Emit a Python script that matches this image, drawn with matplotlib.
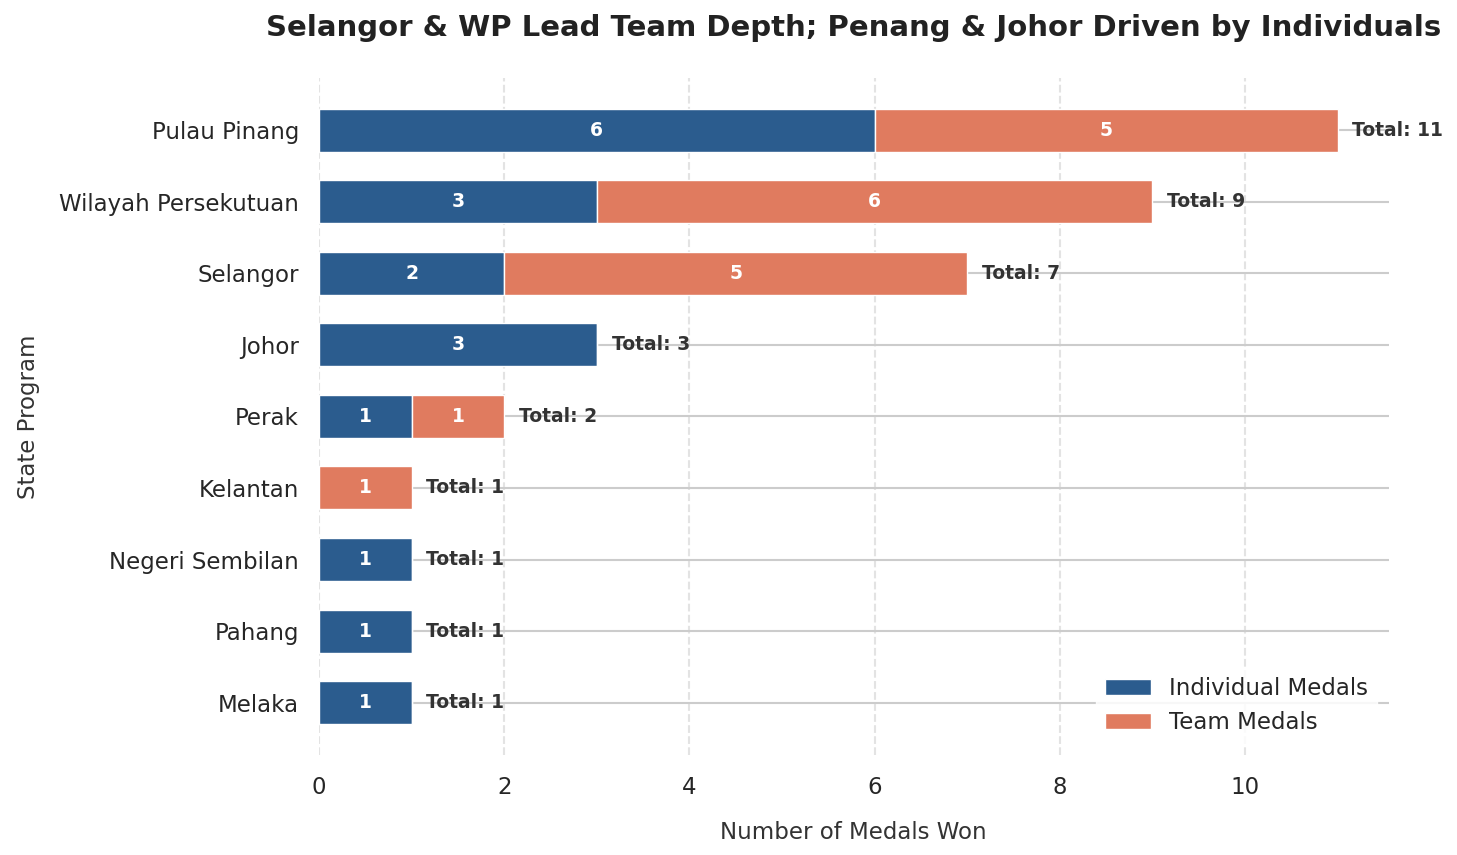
import numpy as np
import matplotlib.pyplot as plt
import seaborn as sns

states = ['Pulau Pinang', 'Wilayah Persekutuan', 'Selangor', 'Johor', 'Perak',
          'Kelantan', 'Negeri Sembilan', 'Pahang', 'Melaka']
individual = [6, 3, 2, 3, 1, 0, 1, 1, 1]
team = [5, 6, 5, 0, 1, 1, 0, 0, 0]

blue = '#2b5c8e'
orange = '#e07b5f'

sns.set_style('whitegrid')
plt.rcParams['font.family'] = ['DejaVu Sans']

ind = np.array(individual)
tm = np.array(team)
total = ind + tm
y = np.arange(len(states))

fig, ax = plt.subplots(figsize=(14.57, 8.55), dpi=100)
fig.subplots_adjust(left=0.219, right=0.953, top=0.909, bottom=0.117)

ax.barh(y, ind, height=0.6, color=blue, edgecolor='white', linewidth=1,
        label='Individual Medals', zorder=3)
ax.barh(y, tm, left=ind, height=0.6, color=orange, edgecolor='white', linewidth=1,
        label='Team Medals', zorder=3)

# Zahlen in den Balken und Summen daneben
for i in range(len(states)):
    if ind[i] > 0:
        ax.text(ind[i] / 2, y[i], str(ind[i]), ha='center', va='center',
                color='white', fontsize=13.5, fontweight='bold', zorder=4)
    if tm[i] > 0:
        ax.text(ind[i] + tm[i] / 2, y[i], str(tm[i]), ha='center', va='center',
                color='white', fontsize=13.5, fontweight='bold', zorder=4)
    ax.text(total[i] + 0.16, y[i], f'Total: {total[i]}', ha='left', va='center',
            color='#333333', fontsize=13.5, fontweight='bold', zorder=4)

ax.set_yticks(y)
ax.set_yticklabels(states, fontsize=16.5)
ax.invert_yaxis()
ax.set_xlim(0, total.max() * 1.05)
ax.tick_params(axis='x', labelsize=16.5, pad=15)
ax.tick_params(axis='y', pad=14.5)
ax.tick_params(axis='both', length=0)

ax.grid(axis='x', linestyle='--', color='#e3e3e3', linewidth=1.5)
ax.grid(axis='y', linestyle='-', color='#cccccc', linewidth=1.5)
for gl in ax.get_xgridlines():
    gl.set_zorder(2)
for gl in ax.get_ygridlines():
    gl.set_zorder(1)
for s in ax.spines.values():
    s.set_visible(False)

ax.set_xlabel('Number of Medals Won', fontsize=16.5, labelpad=16, color='#333333')
ax.set_ylabel('State Program', fontsize=16.5, labelpad=14, color='#333333')
ax.set_title('Selangor & WP Lead Team Depth; Penang & Johor Driven by Individuals',
             fontsize=21, fontweight='bold', pad=30, color='#222222')

leg = ax.legend(loc='lower right', fontsize=16.5, frameon=True, facecolor='white',
                edgecolor='white', framealpha=0.85)
leg.set_zorder(5)

fig.savefig('out.png', dpi=100)
